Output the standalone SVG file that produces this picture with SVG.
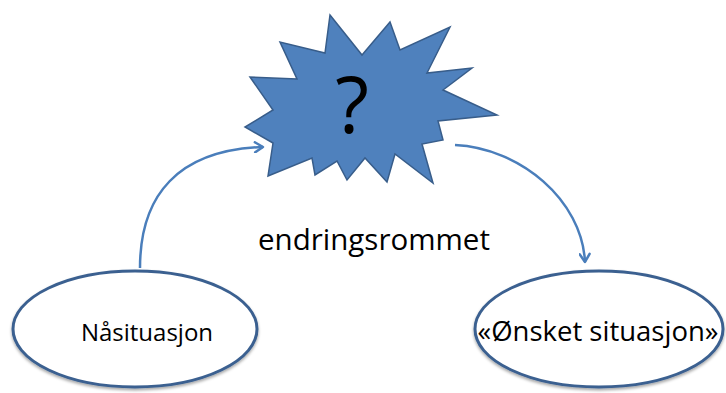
<svg xmlns="http://www.w3.org/2000/svg" width="726" height="393" viewBox="0 0 726 393">
  <style>
    .lbl { font-family: "Open Sans", "Liberation Sans", sans-serif; fill: #000; text-anchor: middle; }
    .oval { fill: #fff; stroke: #3B6090; stroke-width: 3; filter: url(#sh); }
    .conn { fill: none; stroke: #4A7EBB; stroke-width: 2.5; }
  </style>
  <defs>
    <filter id="sh" x="-10%" y="-10%" width="120%" height="130%">
      <feDropShadow dx="0" dy="2" stdDeviation="1.5" flood-color="#000" flood-opacity="0.35"/>
    </filter>
    <marker id="ah" viewBox="0 0 12 12" refX="10" refY="6" markerWidth="12" markerHeight="12" markerUnits="userSpaceOnUse" orient="auto">
      <polyline points="2,1 10,6 2,11" fill="none" stroke="#4A7EBB" stroke-width="2.5" stroke-linecap="round" stroke-linejoin="round"/>
    </marker>
  </defs>
  <rect width="726" height="393" fill="#fff"/>

  <g id="connectors">
    <path class="conn" d="M140,268 C140,195 178,150 263,147" marker-end="url(#ah)"/>
    <path class="conn" d="M455,145 C520,148 582,200 585,262" marker-end="url(#ah)"/>
  </g>

  <g id="star">
    <polygon fill="#4F81BD" stroke="#385D8A" stroke-width="1.5" stroke-linejoin="miter"
      points="330,15 362,55 390,22 400,50 450,27 427,73 472,68 443,90 497,115 438,121 443,140 422,144 433,183 395,154 387,182 365,158 347,180 337,161 315,175 312,158 268,176 273,143 245,127 273,110 250,77 297,79 280,42 325,53"/>
    <text class="lbl" x="352" y="133" font-size="78">?</text>
  </g>

  <g id="label-endringsrommet">
    <text class="lbl" x="374" y="250" font-size="29.5">endringsrommet</text>
  </g>

  <g id="node-naa">
    <ellipse class="oval" cx="135" cy="329" rx="122" ry="58"/>
    <text class="lbl" x="147" y="341" font-size="24">Nåsituasjon</text>
  </g>

  <g id="node-onsket">
    <ellipse class="oval" cx="599" cy="329" rx="124" ry="58"/>
    <text class="lbl" x="598" y="341" font-size="27.5">«Ønsket situasjon»</text>
  </g>
</svg>
